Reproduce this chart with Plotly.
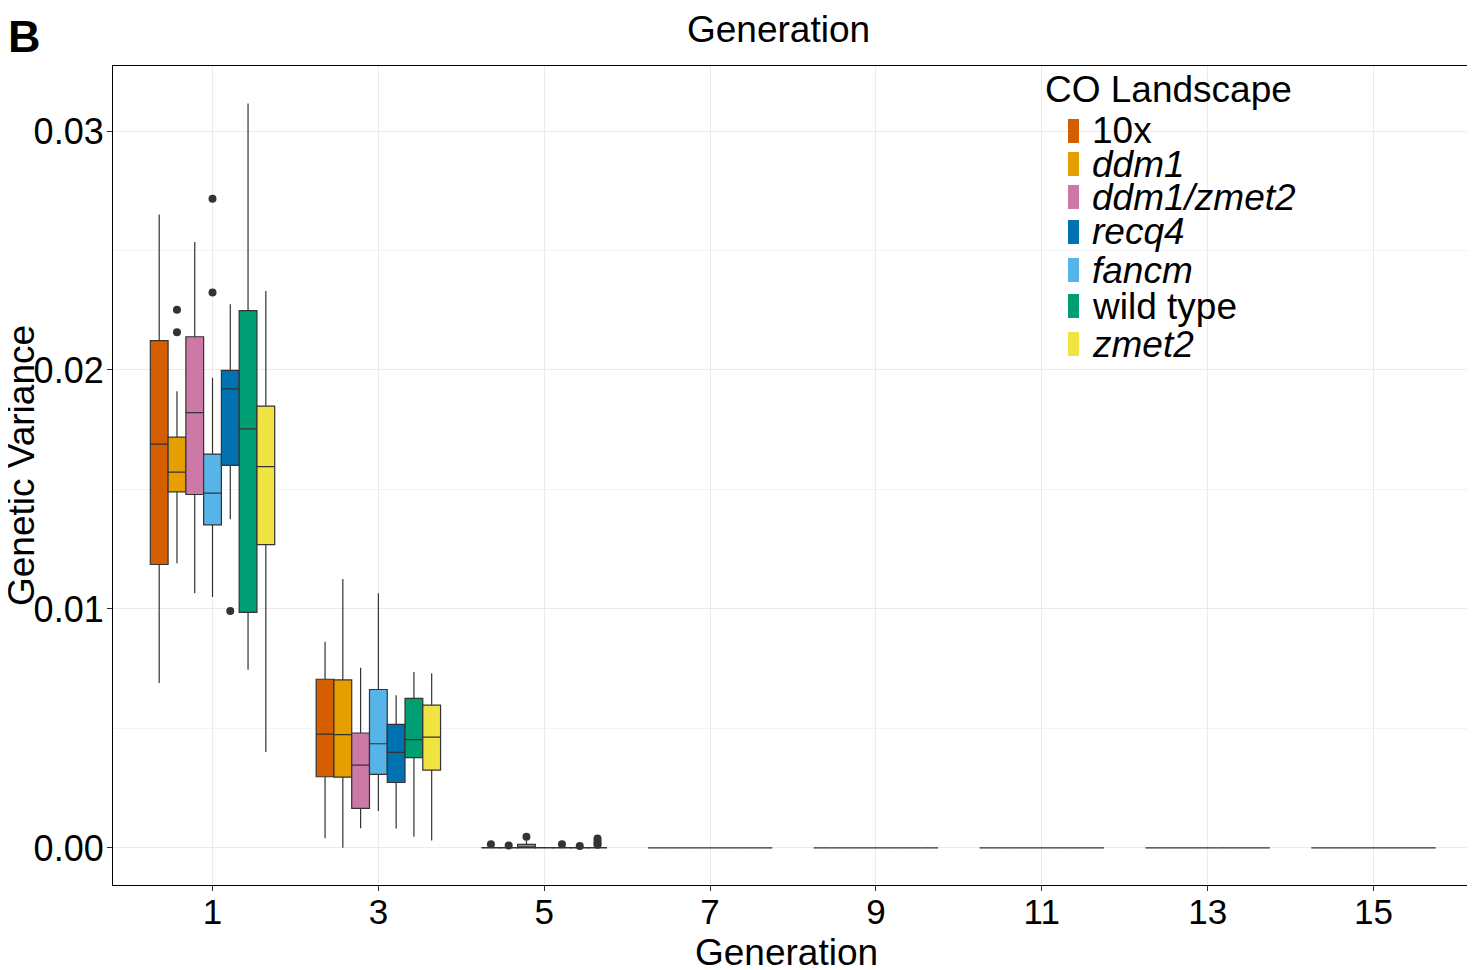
import plotly.graph_objects as go

generations = ["1", "3", "5", "7", "9", "11", "13", "15"]

# plot order (alphabetical, as drawn) and legend order
landscapes = ["10x", "ddm1", "ddm1/zmet2", "fancm", "recq4", "wild type", "zmet2"]
legend_order = ["10x", "ddm1", "ddm1/zmet2", "recq4", "fancm", "wild type", "zmet2"]
legend_labels = {"10x": "10x", "ddm1": "<i>ddm1</i>", "ddm1/zmet2": "<i>ddm1/zmet2</i>",
                 "recq4": "<i>recq4</i>", "fancm": "<i>fancm</i>",
                 "wild type": "wild type", "zmet2": "<i>zmet2</i>"}
colors = {"10x": "#D55E00", "ddm1": "#E69F00", "ddm1/zmet2": "#CC79A7",
          "recq4": "#0072B2", "fancm": "#56B4E9", "wild type": "#009E73", "zmet2": "#F0E442"}

# per landscape: lists over generations 1,3,5,7,9,11,13,15
lower = {
    "10x":        [0.00690, 0.00041, 0.0, 0, 0, 0, 0, 0],
    "ddm1":       [0.01191, 0.00001, 0.0, 0, 0, 0, 0, 0],
    "ddm1/zmet2": [0.01066, 0.00082, 0.0, 0, 0, 0, 0, 0],
    "fancm":      [0.01050, 0.00155, 0.0, 0, 0, 0, 0, 0],
    "recq4":      [0.01375, 0.00081, 0.0, 0, 0, 0, 0, 0],
    "wild type":  [0.00746, 0.00047, 0.0, 0, 0, 0, 0, 0],
    "zmet2":      [0.00402, 0.00031, 0.0, 0, 0, 0, 0, 0],
}
q1 = {
    "10x":        [0.01186, 0.00298, 0.0, 0, 0, 0, 0, 0],
    "ddm1":       [0.01490, 0.00296, 0.0, 0, 0, 0, 0, 0],
    "ddm1/zmet2": [0.01479, 0.00166, 0.0, 0, 0, 0, 0, 0],
    "fancm":      [0.01352, 0.00308, 0.0, 0, 0, 0, 0, 0],
    "recq4":      [0.01601, 0.00274, 0.0, 0, 0, 0, 0, 0],
    "wild type":  [0.00986, 0.00378, 0.0, 0, 0, 0, 0, 0],
    "zmet2":      [0.01269, 0.00326, 0.0, 0, 0, 0, 0, 0],
}
median = {
    "10x":        [0.01690, 0.00476, 0.0, 0, 0, 0, 0, 0],
    "ddm1":       [0.01573, 0.00474, 0.0, 0, 0, 0, 0, 0],
    "ddm1/zmet2": [0.01822, 0.00347, 0.00003, 0, 0, 0, 0, 0],
    "fancm":      [0.01485, 0.00436, 0.0, 0, 0, 0, 0, 0],
    "recq4":      [0.01921, 0.00400, 0.0, 0, 0, 0, 0, 0],
    "wild type":  [0.01754, 0.00453, 0.0, 0, 0, 0, 0, 0],
    "zmet2":      [0.01596, 0.00464, 0.0, 0, 0, 0, 0, 0],
}
q3 = {
    "10x":        [0.02123, 0.00706, 0.00002, 0, 0, 0, 0, 0],
    "ddm1":       [0.01719, 0.00703, 0.00001, 0, 0, 0, 0, 0],
    "ddm1/zmet2": [0.02139, 0.00481, 0.00015, 0, 0, 0, 0, 0],
    "fancm":      [0.01648, 0.00663, 0.00001, 0, 0, 0, 0, 0],
    "recq4":      [0.01998, 0.00517, 0.00002, 0, 0, 0, 0, 0],
    "wild type":  [0.02248, 0.00626, 0.00001, 0, 0, 0, 0, 0],
    "zmet2":      [0.01849, 0.00598, 0.00002, 0, 0, 0, 0, 0],
}
upper = {
    "10x":        [0.02651, 0.00863, 0.00004, 0, 0, 0, 0, 0],
    "ddm1":       [0.01911, 0.01125, 0.00003, 0, 0, 0, 0, 0],
    "ddm1/zmet2": [0.02536, 0.00754, 0.00030, 0, 0, 0, 0, 0],
    "fancm":      [0.01967, 0.01066, 0.00003, 0, 0, 0, 0, 0],
    "recq4":      [0.02275, 0.00639, 0.00004, 0, 0, 0, 0, 0],
    "wild type":  [0.03115, 0.00736, 0.00003, 0, 0, 0, 0, 0],
    "zmet2":      [0.02331, 0.00731, 0.00004, 0, 0, 0, 0, 0],
}
outliers = {
    "10x":        [[], [], [0.00016], [], [], [], [], []],
    "ddm1":       [[0.02252, 0.02158], [], [0.00010], [], [], [], [], []],
    "ddm1/zmet2": [[], [], [0.00047], [], [], [], [], []],
    "fancm":      [[0.02717, 0.02324], [], [], [], [], [], [], []],
    "recq4":      [[0.00991], [], [0.00016], [], [], [], [], []],
    "wild type":  [[], [], [0.00008], [], [], [], [], []],
    "zmet2":      [[], [], [0.00040, 0.00030, 0.00020, 0.00013], [], [], [], [], []],
}

FONT = "Liberation Sans, Arial, Helvetica, sans-serif"
BODY = 8  # default page margin around the plot div
W, H = 1475 - BODY, 970 - BODY
ML, MR, MT, MB = 113 - BODY, 2, 66 - BODY, 85
# plot area in page pixels
X0, X1 = BODY + ML, BODY + W - MR
Y0, Y1 = BODY + MT, BODY + H - MB


def px_x(p):
    return (p - X0) / (X1 - X0)


def px_y(p):
    return 1 - (p - Y0) / (Y1 - Y0)


fig = go.Figure()
for name in landscapes:
    # sample points per box: the median (inside the box, never drawn) plus the outliers
    pts = [[m] + o for m, o in zip(median[name], outliers[name])]
    fig.add_trace(go.Box(
        name=name,
        x=generations,
        q1=q1[name], median=median[name], q3=q3[name],
        lowerfence=lower[name], upperfence=upper[name],
        y=pts,
        boxpoints="outliers", jitter=0, pointpos=0,
        whiskerwidth=0,
        fillcolor=colors[name],
        line=dict(color="#333333", width=1.2),
        marker=dict(color="#333333", size=8, line=dict(width=0)),
        showlegend=False,
        hoverinfo="skip",
    ))

annotations = [
    dict(text="Generation", xref="paper", yref="paper", x=px_x(778), y=px_y(30),
         xanchor="center", yanchor="middle", showarrow=False,
         font=dict(size=37, family=FONT, color="black")),
    dict(text="<b>B</b>", xref="paper", yref="paper", x=px_x(24), y=px_y(37),
         xanchor="center", yanchor="middle", showarrow=False,
         font=dict(size=45, family=FONT, color="black")),
    dict(text="Generation", xref="paper", yref="paper", x=px_x(786), y=px_y(952),
         xanchor="center", yanchor="middle", showarrow=False,
         font=dict(size=37, family=FONT, color="black")),
    dict(text="Genetic Variance", xref="paper", yref="paper", x=px_x(21), y=px_y(466),
         xanchor="center", yanchor="middle", showarrow=False, textangle=-90,
         font=dict(size=37, family=FONT, color="black")),
    dict(text="CO Landscape", xref="paper", yref="paper", x=px_x(1043), y=px_y(89),
         xanchor="left", yanchor="middle", showarrow=False,
         font=dict(size=37, family=FONT, color="black")),
]
shapes = []
# legend rows (layout positions of the key, top to bottom)
row_y = [131, 164, 197, 232, 270, 306, 344]
for i, name in enumerate(legend_order):
    yc = row_y[i]
    shapes.append(dict(type="rect", xref="paper", yref="paper",
                       x0=px_x(1068), x1=px_x(1079), y0=px_y(yc + 12), y1=px_y(yc - 12),
                       fillcolor=colors[name], line=dict(width=0), layer="above"))
    annotations.append(dict(text=legend_labels[name], xref="paper", yref="paper",
                            x=px_x(1090), y=px_y(yc), xanchor="left", yanchor="middle",
                            showarrow=False,
                            font=dict(size=37, family=FONT, color="black")))

fig.update_layout(
    width=W, height=H,
    margin=dict(l=ML, r=MR, t=MT, b=MB),
    paper_bgcolor="white", plot_bgcolor="white",
    boxmode="group", boxgap=0.25, boxgroupgap=0.0,
    font=dict(family=FONT, color="black", size=34),
    showlegend=False,
    xaxis=dict(
        type="category", categoryorder="array", categoryarray=generations,
        range=[-0.6, 7.6], automargin=False,
        showgrid=True, gridcolor="#EBEBEB", gridwidth=1,
        ticks="outside", ticklen=5, tickcolor="#333333", tickwidth=1,
        ticklabelstandoff=-9,
        tickfont=dict(size=35, color="black"),
        showline=True, linecolor="black", linewidth=1.2, mirror=True,
        zeroline=False,
    ),
    yaxis=dict(
        range=[-0.00155, 0.03272], automargin=False,
        tickvals=[0.0, 0.01, 0.02, 0.03], tickformat=".2f",
        showgrid=True, gridcolor="#EBEBEB", gridwidth=1,
        minor=dict(dtick=0.005, showgrid=True, gridcolor="#F2F2F2", gridwidth=1),
        ticks="outside", ticklen=5, tickcolor="#333333", tickwidth=1,
        ticklabelstandoff=-4,
        tickfont=dict(size=36, color="black"),
        showline=True, linecolor="black", linewidth=1.2, mirror=True,
        zeroline=False,
    ),
    annotations=annotations,
    shapes=shapes,
)

fig.write_html("out.html")
